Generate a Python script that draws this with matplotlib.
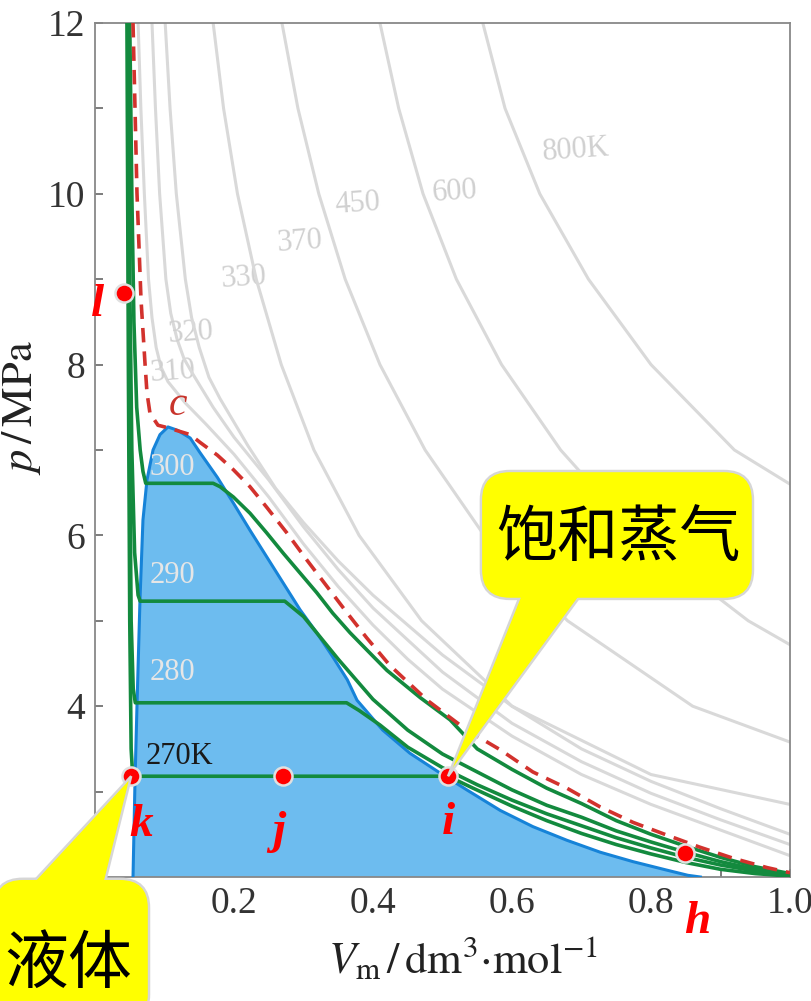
import matplotlib
matplotlib.use("Agg")
import matplotlib.pyplot as plt
from matplotlib.patches import FancyBboxPatch, Polygon
from matplotlib.ticker import MultipleLocator

plt.rcParams["font.family"] = ["Liberation Serif", "DejaVu Serif"]
plt.rcParams["mathtext.fontset"] = "stix"

# ---- gray isotherms above Tc: (V_m, p) ----
iso_gray = {
    "310": ([0.062, 0.066, 0.071, 0.077, 0.082, 0.088, 0.095, 0.105, 0.13, 0.16, 0.2, 0.25, 0.3, 0.35, 0.4,
             0.45, 0.5, 0.6, 0.7, 0.8, 0.9, 1.0],
            [12, 11, 10, 9, 8.55, 8.2, 7.97, 7.8, 7.55, 7.3, 6.95, 6.45, 5.9, 5.4, 4.95,
             4.55, 4.2, 3.65, 3.2, 2.85, 2.55, 2.25]),
    "320": ([0.082, 0.087, 0.093, 0.102, 0.109, 0.118, 0.128, 0.14, 0.17, 0.2, 0.25, 0.3, 0.35, 0.4, 0.5,
             0.6, 0.7, 0.8, 0.9, 1.0],
            [12, 11, 10, 9, 8.6, 8.3, 8.07, 7.9, 7.5, 7.15, 6.65, 6.1, 5.6, 5.15, 4.4,
             3.8, 3.35, 2.98, 2.67, 2.38]),
    "330": ([0.101, 0.108, 0.117, 0.13, 0.139, 0.15, 0.164, 0.18, 0.22, 0.26, 0.3, 0.35, 0.4, 0.5, 0.6,
             0.7, 0.8, 0.9, 1.0],
            [12, 11, 10, 9, 8.55, 8.2, 7.85, 7.6, 7.05, 6.55, 6.15, 5.7, 5.3, 4.6, 4.0,
             3.5, 3.12, 2.8, 2.5]),
    "370": ([0.170, 0.185, 0.205, 0.232, 0.268, 0.315, 0.38, 0.47, 0.6, 0.8, 1.0],
            [12, 11, 10, 9, 8, 7, 6, 5, 4, 3.2, 2.85]),
    "450": ([0.269, 0.292, 0.322, 0.36, 0.41, 0.475, 0.56, 0.68, 0.86, 1.0],
            [12, 11, 10, 9, 8, 7, 6, 5, 4, 3.58]),
    "600": ([0.410, 0.437, 0.472, 0.52, 0.585, 0.67, 0.78, 0.94, 1.0],
            [12, 11, 10, 9, 8, 7, 6, 5, 4.72]),
    "800K": ([0.558, 0.59, 0.64, 0.71, 0.8, 0.92, 1.0],
             [12, 11, 10, 9, 8, 7, 6.6]),
}
gray_label_pos = {"310": (0.112, 7.91), "320": (0.138, 8.37), "330": (0.214, 9.01),
                  "370": (0.295, 9.44), "450": (0.378, 9.88), "600": (0.518, 10.02),
                  "800K": (0.692, 10.51)}

# ---- critical isotherm (dashed) ----
crit_v = [0.0547, 0.0604, 0.0662, 0.0719, 0.0748, 0.0791, 0.0906, 0.105, 0.137, 0.151, 0.176, 0.199,
          0.223, 0.247, 0.276, 0.305, 0.334, 0.363, 0.391, 0.424, 0.478, 0.535, 0.583, 0.630,
          0.679, 0.727, 0.774, 0.823, 0.870, 0.918, 0.967, 1.0]
crit_p = [12, 10.01, 8.76, 8.02, 7.67, 7.43, 7.29, 7.26, 7.18, 7.09, 6.94, 6.77,
          6.57, 6.33, 6.03, 5.71, 5.40, 5.09, 4.80, 4.48, 4.07, 3.72, 3.49, 3.23,
          3.04, 2.82, 2.64, 2.49, 2.35, 2.22, 2.11, 2.05]

# ---- two-phase dome ----
dome_v = [0.0547, 0.0576, 0.0604, 0.0647, 0.069, 0.0748, 0.0835, 0.0935, 0.105, 0.119, 0.137, 0.151,
          0.176, 0.199, 0.223, 0.247, 0.271, 0.295, 0.319, 0.342, 0.363, 0.377, 0.414, 0.453,
          0.496, 0.535, 0.583, 0.630, 0.679, 0.727, 0.774, 0.823, 0.853, 0.871]
dome_p = [2.0, 3.14, 4.0, 5.24, 6.18, 6.65, 7.0, 7.18, 7.27, 7.23, 7.14, 6.97,
          6.68, 6.38, 6.06, 5.75, 5.44, 5.13, 4.86, 4.58, 4.31, 4.07, 3.72, 3.45,
          3.22, 3.02, 2.78, 2.59, 2.43, 2.29, 2.18, 2.08, 2.02, 2.0]

# ---- green isotherms below Tc ----
iso_green = {
    "300": ([0.050, 0.053, 0.056, 0.060, 0.065, 0.069, 0.073, 0.17, 0.18, 0.199, 0.223, 0.247, 0.271,
             0.295, 0.319, 0.342, 0.367, 0.391, 0.42, 0.468, 0.511, 0.55, 0.6, 0.65, 0.7, 0.75,
             0.8, 0.85, 0.9, 0.95, 1.0],
            [12, 10, 8.5, 7.5, 7.0, 6.75, 6.61, 6.61, 6.57, 6.45, 6.26, 6.03, 5.79,
             5.56, 5.33, 5.09, 4.86, 4.66, 4.42, 4.10, 3.84, 3.50, 3.26, 3.04, 2.86, 2.66,
             2.50, 2.36, 2.23, 2.12, 2.04]),
    "290": ([0.048, 0.050, 0.053, 0.057, 0.062, 0.065, 0.273, 0.3, 0.35, 0.4, 0.45, 0.5, 0.55,
             0.6, 0.65, 0.7, 0.75, 0.8, 0.85, 0.9, 0.95, 1.0],
            [12, 9, 7, 5.8, 5.3, 5.23, 5.23, 5.05, 4.55, 4.08, 3.72, 3.44, 3.23,
             3.02, 2.84, 2.70, 2.54, 2.41, 2.29, 2.18, 2.09, 2.03]),
    "280": ([0.047, 0.049, 0.052, 0.055, 0.058, 0.362, 0.38, 0.41, 0.45, 0.5, 0.55, 0.6, 0.65,
             0.7, 0.75, 0.8, 0.85, 0.9, 0.95, 1.0],
            [12, 8, 5, 4.2, 4.04, 4.04, 3.95, 3.78, 3.52, 3.28, 3.08, 2.90, 2.74,
             2.60, 2.46, 2.34, 2.23, 2.14, 2.07, 2.02]),
    "270K": ([0.046, 0.048, 0.050, 0.052, 0.054, 0.056, 0.508, 0.544, 0.6, 0.65, 0.7, 0.75,
              0.8, 0.85, 0.9, 0.95, 1.0],
             [12, 8, 5, 3.5, 3.22, 3.18, 3.18, 3.04, 2.83, 2.66, 2.51, 2.38,
              2.27, 2.17, 2.09, 2.04, 2.01]),
}
green_label_pos = {"300": (0.111, 6.79), "290": (0.111, 5.53), "280": (0.111, 4.40), "270K": (0.122, 3.41)}
green_label_color = {"300": "#e6e6e6", "290": "#e6e6e6", "280": "#e6e6e6", "270K": "#1a1a1a"}

# ---- marked states ----
pt_names = ["l", "k", "j", "i", "h"]
pt_v = [0.042, 0.052, 0.27, 0.508, 0.849]
pt_p = [8.84, 3.18, 3.18, 3.18, 2.28]
pt_label_pos = [(0.003, 8.70), (0.066, 2.61), (0.265, 2.53), (0.508, 2.63), (0.866, 1.47)]

GRAY = "#d9d9d9"
GREEN = "#138a3e"
RED_D = "#d2322d"
BLUE_F = "#6dbcef"
BLUE_E = "#1683d8"
YELLOW = "#ffff00"

fig = plt.figure(figsize=(8.12, 10.01), dpi=100)
ax = fig.add_axes([95 / 812, 1 - 877 / 1001, 695 / 812, 854 / 1001])

for name, (v, p) in iso_gray.items():
    ax.plot(v, p, color=GRAY, lw=2.2, zorder=1, solid_capstyle="round", solid_joinstyle="round")
    ax.text(*gray_label_pos[name], name, color="#d0d0d0", fontsize=22, ha="center", va="center",
            rotation=4, zorder=1)

ax.fill(dome_v, dome_p, color=BLUE_F, lw=0, zorder=2)
ax.plot(dome_v, dome_p, color=BLUE_E, lw=2.2, zorder=3, solid_joinstyle="round")

for name, (v, p) in iso_green.items():
    ax.plot(v, p, color=GREEN, lw=2.6, zorder=4, solid_joinstyle="round")
    ax.text(*green_label_pos[name], name, color=green_label_color[name], fontsize=22,
            ha="center", va="center", zorder=4)

ax.plot(crit_v, crit_p, color=RED_D, lw=2.6, ls=(0, (4, 2.5)), zorder=5)
ax.text(0.119, 7.53, "c", color="#c8342c", fontsize=30, style="italic", ha="center", va="center", zorder=5)

ax.plot(pt_v, pt_p, "o", ms=13, mfc="#ff0000", mec="#e0e0e0", mew=1.8, zorder=7, clip_on=False)
for name, (x, y) in zip(pt_names, pt_label_pos):
    ax.text(x, y, name, color="#ff0000", fontsize=34, style="italic", weight="bold",
            ha="center", va="center", zorder=7, clip_on=False)


def callout(box, tip, base, text, fsize, text_xy):
    # rounded yellow box with a wedge pointing at a state point
    x0, y0, x1, y1 = box
    asp = 695 / 85.4
    kw = dict(boxstyle="round,pad=0,rounding_size=0.04", mutation_aspect=asp,
              transform=ax.transData, clip_on=False)
    ax.add_patch(FancyBboxPatch((x0, y0), x1 - x0, y1 - y0, fc=YELLOW, ec="#d6d6d6", lw=3.5,
                                zorder=10, **kw))
    ax.add_patch(Polygon([base[0], tip, base[1]], closed=True, fc=YELLOW, ec="#d6d6d6", lw=1.8,
                         zorder=11, clip_on=False))
    ax.add_patch(FancyBboxPatch((x0, y0), x1 - x0, y1 - y0, fc=YELLOW, ec="none",
                                zorder=12, **kw))
    ax.text(*text_xy, text, fontsize=fsize, color="black", ha="center", va="center",
            family=["Noto Sans CJK SC", "DejaVu Sans"], zorder=13, clip_on=False)


callout((0.557, 5.27, 0.945, 6.74), (0.508, 3.18), [(0.622, 5.5), (0.717, 5.5)],
        "饱和蒸气", 44, (0.753, 5.95))
callout((-0.144, 0.3, 0.076, 1.965), (0.052, 3.18), [(-0.105, 1.8), (0.01, 1.8)],
        "液体", 46, (-0.039, 0.97))

ax.set_xlim(0, 1.0)
ax.set_ylim(2, 12)
ax.xaxis.set_minor_locator(MultipleLocator(0.1))
ax.yaxis.set_minor_locator(MultipleLocator(1))
ax.set_xticks([0, 0.2, 0.4, 0.6, 0.8, 1.0])
ax.set_xticklabels(["0", "0.2", "0.4", "0.6", "0.8", "1.0"])
ax.set_yticks([4, 6, 8, 10, 12])
ax.tick_params(which="both", direction="in", length=6, width=1.2, color="#666666",
               labelsize=27, labelcolor="#333333", pad=7)
for s in ax.spines.values():
    s.set_color("#888888")
    s.set_linewidth(1.3)

ax.set_xlabel(r"$V_{\rm m}\,/\,{\rm dm^3{\cdot}mol^{-1}}$", fontsize=32, color="#222222")
ax.xaxis.set_label_coords(0.53, -0.068)
ax.set_ylabel(r"$p\,/\,{\rm MPa}$", fontsize=32, color="#222222")
ax.yaxis.set_label_coords(-0.075, 0.55)

fig.savefig("out.png", dpi=100)
